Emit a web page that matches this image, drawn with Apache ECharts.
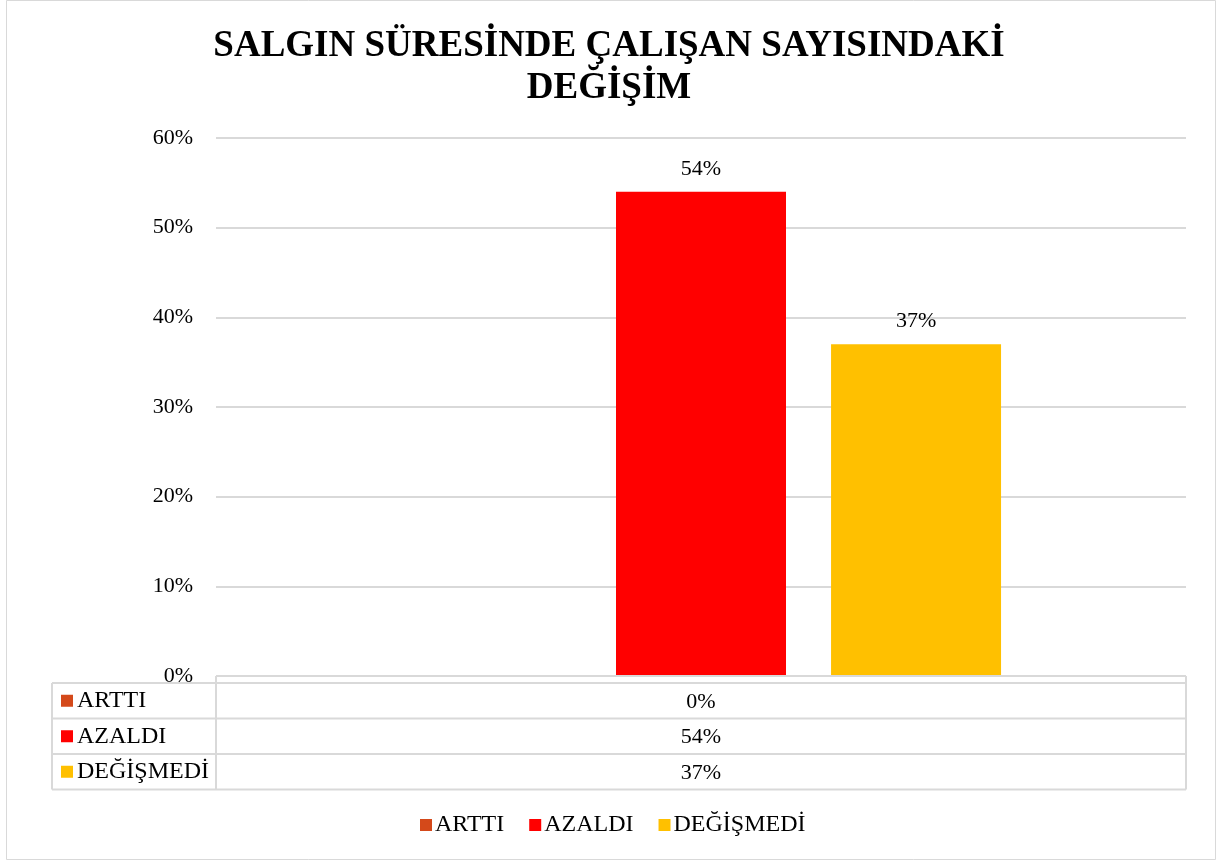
<!DOCTYPE html>
<html>
<head>
<meta charset="utf-8">
<script src="https://cdn.jsdelivr.net/npm/echarts@6/dist/echarts.min.js"></script>
<style>
html,body{margin:0;padding:0;background:#fff;}
#c{width:1218px;height:861px;}
</style>
</head>
<body>
<div id="c"></div>
<script>
var titleText = 'SALGIN SÜRESİNDE ÇALIŞAN SAYISINDAKİ\nDEĞİŞİM';
var categories = [''];
var seriesNames = ['ARTTI', 'AZALDI', 'DEĞİŞMEDİ'];
var seriesColors = ['#D4491A', '#FF0000', '#FFC000'];
var arttiValues = [0];
var azaldiValues = [0.54];
var degismediValues = [0.37];
var yTicks = [0, 0.1, 0.2, 0.3, 0.4, 0.5, 0.6];

var allValues = [arttiValues, azaldiValues, degismediValues];
var FONT = '"Liberation Serif", "Times New Roman", serif';
function pct(v) { return Math.round(v * 100) + '%'; }

// layout constants
var W = 1218, H = 861;
var gridLeft = 216, gridRight = 32, gridTop = 138, gridBottom = 185;
var plotRight = W - gridRight;
var axisY = H - gridBottom;
var tableLeft = 52;
var headerH = 7;
var rowH = 35.5;
var lineColor = '#D9D9D9';

var chart = echarts.init(document.getElementById('c'), null, {renderer: 'canvas'});

var series = seriesNames.map(function (name, i) {
  return {
    name: name,
    type: 'bar',
    data: allValues[i],
    barWidth: 170,
    barGap: '26.5%',
    itemStyle: {color: seriesColors[i]},
    label: {
      show: true,
      position: 'top',
      distance: 12,
      fontFamily: FONT,
      fontSize: 22,
      color: '#000',
      formatter: function (p) { return p.value === 0 ? '' : pct(p.value); }
    }
  };
});

// data table graphics (decoration built from the arrays)
var graphics = [];
graphics.push({
  type: 'rect', silent: true, z: 0,
  shape: {x: 6.5, y: 0.5, width: 1209, height: 859},
  style: {fill: 'none', stroke: lineColor, lineWidth: 1}
});
var tableTop = axisY + headerH;
function hline(x1, x2, y) {
  graphics.push({type: 'line', silent: true, z: 10,
    shape: {x1: x1, y1: y, x2: x2, y2: y},
    style: {stroke: lineColor, lineWidth: 2}});
}
function vline(x, y1, y2) {
  graphics.push({type: 'line', silent: true, z: 10,
    shape: {x1: x, y1: y1, x2: x, y2: y2},
    style: {stroke: lineColor, lineWidth: 2}});
}
hline(gridLeft, plotRight, axisY);
for (var r = 0; r <= seriesNames.length; r++) {
  hline(tableLeft, plotRight, tableTop + r * rowH);
}
var tableBottom = tableTop + seriesNames.length * rowH;
vline(tableLeft, tableTop, tableBottom);
vline(gridLeft, axisY, tableBottom);
vline(plotRight, axisY, tableBottom);
seriesNames.forEach(function (name, i) {
  var cy = tableTop + i * rowH + rowH / 2;
  graphics.push({type: 'rect', silent: true, z: 11,
    shape: {x: 61, y: cy - 6, width: 12, height: 12},
    style: {fill: seriesColors[i]}});
  graphics.push({type: 'text', silent: true, z: 11,
    x: 77, y: cy,
    style: {text: name, fontFamily: FONT, fontSize: 24, fill: '#000',
      textAlign: 'left', textVerticalAlign: 'middle'}});
  graphics.push({type: 'text', silent: true, z: 11,
    x: (gridLeft + plotRight) / 2, y: cy + 1,
    style: {text: pct(allValues[i][0]), fontFamily: FONT, fontSize: 22, fill: '#000',
      textAlign: 'center', textVerticalAlign: 'middle'}});
});

var option = {
  backgroundColor: '#fff',
  animation: false,
  title: {
    text: titleText,
    left: 'center',
    top: 20,
    textStyle: {fontFamily: FONT, fontSize: 37, fontWeight: 'bold', color: '#000', lineHeight: 42}
  },
  legend: {
    data: seriesNames,
    left: 420,
    top: 813,
    padding: 0,
    icon: 'rect',
    itemWidth: 12,
    itemHeight: 12,
    itemGap: 25,
    textStyle: {fontFamily: FONT, fontSize: 24, color: '#000', padding: [0, 0, 0, -2]}
  },
  grid: {left: gridLeft, right: gridRight, top: gridTop, bottom: gridBottom, containLabel: false},
  xAxis: {
    type: 'category',
    data: categories,
    axisLine: {show: false},
    axisTick: {show: false},
    axisLabel: {show: false},
    splitLine: {show: false}
  },
  yAxis: {
    type: 'value',
    min: yTicks[0],
    max: yTicks[yTicks.length - 1],
    interval: 0.1,
    axisLine: {show: false},
    axisTick: {show: false},
    axisLabel: {formatter: pct, fontFamily: FONT, fontSize: 22, color: '#000', margin: 23},
    splitLine: {lineStyle: {color: lineColor, width: 2}}
  },
  series: series,
  graphic: graphics
};
chart.setOption(option);
</script>
</body>
</html>
